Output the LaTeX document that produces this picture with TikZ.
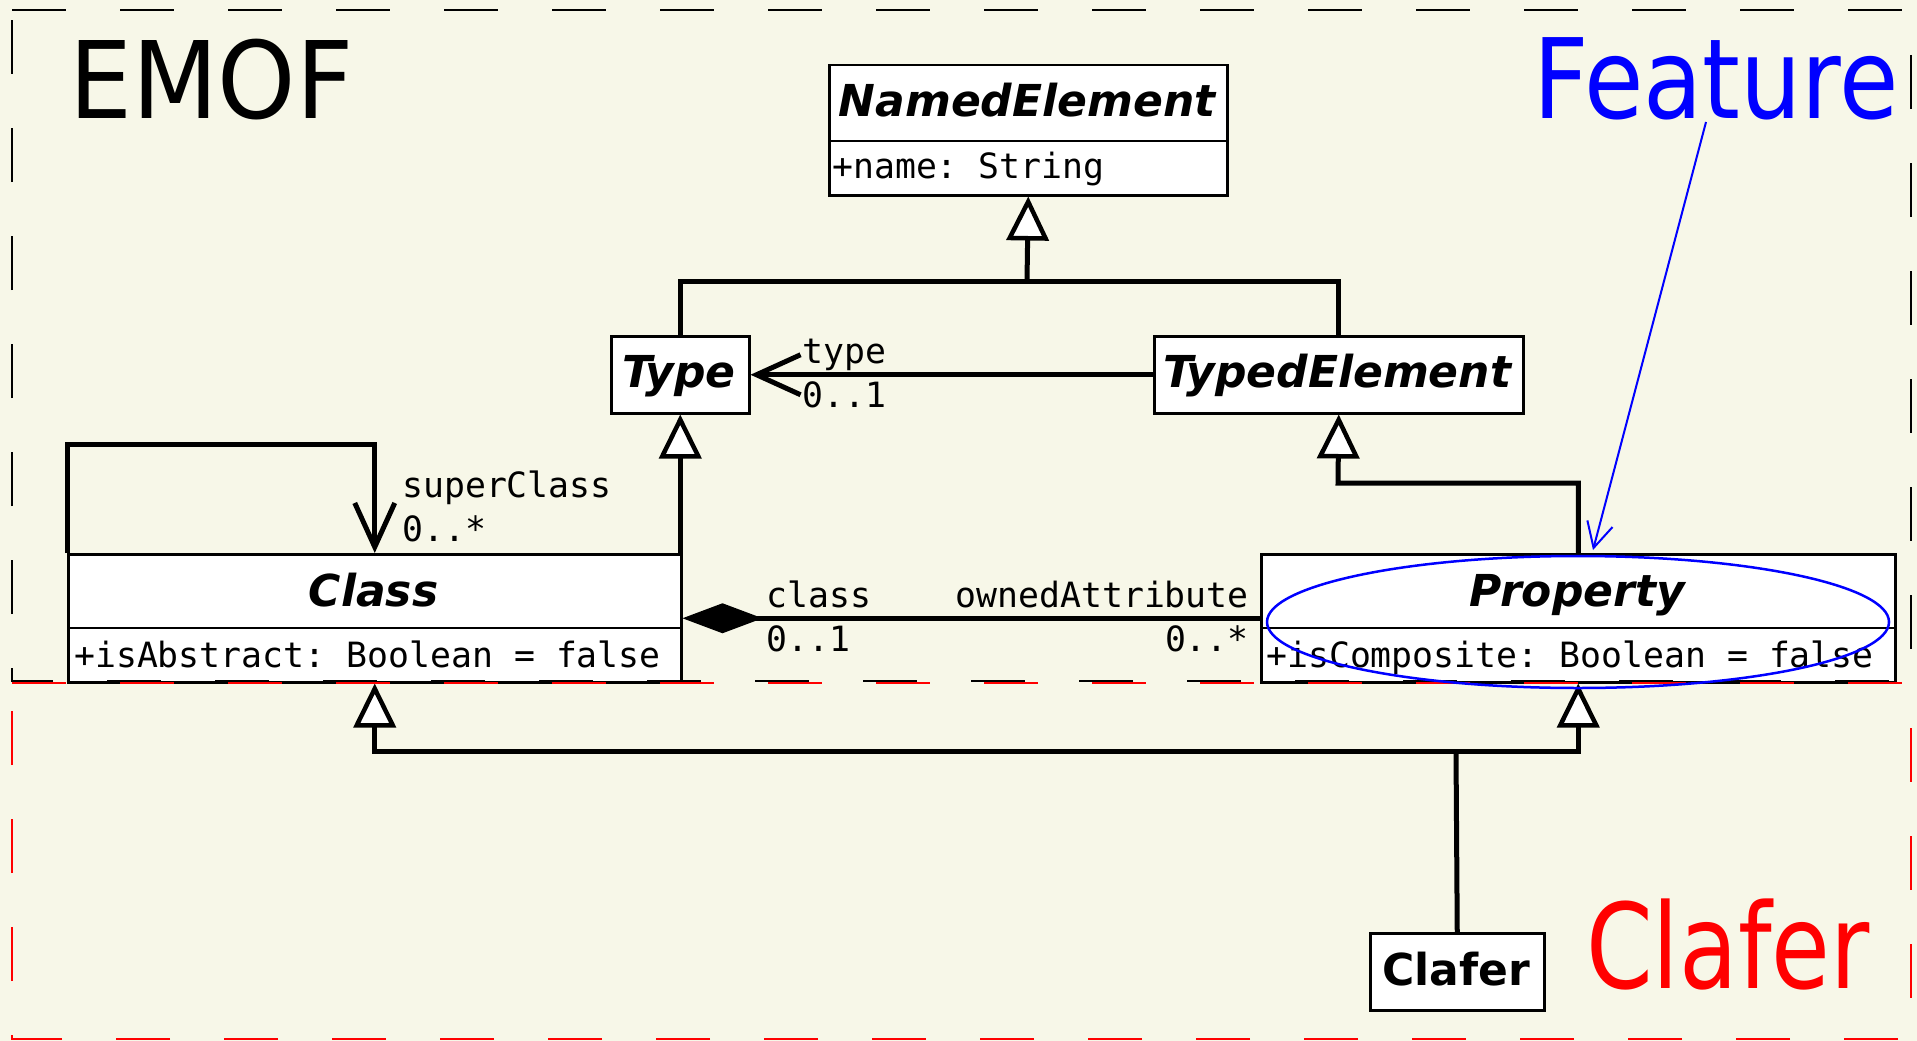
\documentclass[tikz,border=0pt]{standalone}
\usepackage{fontspec}
\usepackage{graphicx}
\setmainfont{DejaVu Sans}
\newfontfamily\monof{DejaVu Sans Mono}
\usetikzlibrary{arrows.meta}
\definecolor{bgcream}{RGB}{247,247,232}
\frenchspacing
\tikzset{
 umlbox/.style={draw=black, fill=white, line width=2.5pt, inner sep=0pt, anchor=north west},
 divider/.style={line width=2.5pt},
 cname/.style={font=\fontsize{44}{50}\selectfont\bfseries\itshape, inner sep=0pt, anchor=base},
 attr/.style={font=\monof\fontsize{34.8}{40}\selectfont, inner sep=0pt, anchor=base west},
 lbl/.style={font=\monof\fontsize{34.8}{40}\selectfont, inner sep=0pt},
 conn/.style={line width=5pt, line join=miter},
 gen/.style={-{Triangle[length=44pt, width=42pt, fill=white, line width=4.5pt]}},
 nav/.style={-{Straight Barb[length=44pt, width=40pt, line width=5pt]}},
 comp/.style={{Diamond[length=80pt, width=30pt]}-},
 biglbl/.style={inner sep=0pt, anchor=base west},
}
\begin{document}
\begin{tikzpicture}[x=1pt,y=-1pt]
\fill[bgcream] (0,0) rectangle (1917,1041);
\useasboundingbox (0,0) rectangle (1917,1041);

% boxes
\node[umlbox, minimum width=398pt, minimum height=130pt] (ne) at (828,64) {};
\draw[divider] (828,141) -- (1226,141);
\node[cname] (netxt) at (1027,117) {NamedElement};
\node[attr] (neattr) at (832,178) {+name: String};

\node[umlbox, minimum width=138pt, minimum height=77pt] (ty) at (610,335) {};
\node[cname] (tytxt) at (679,387.5) {Type};

\node[umlbox, minimum width=369pt, minimum height=77pt] (te) at (1153,335) {};
\node[cname] (tetxt) at (1337.5,387.5) {TypedElement};

\node[umlbox, minimum width=613pt, minimum height=128pt] (cls) at (67,553) {};
\draw[divider] (67,628) -- (680,628);
\node[cname] (clstxt) at (373.5,606) {Class};
\node[attr] (clsattr) at (74,667.5) {+isAbstract: Boolean = false};

\node[umlbox, minimum width=634pt, minimum height=128pt] (prop) at (1260,553) {};
\draw[divider] (1260,628) -- (1894,628);
\node[cname] (proptxt) at (1577,606) {Property};
\node[attr] (propattr) at (1266,667.5) {+isComposite: Boolean = false};

\node[umlbox, minimum width=174pt, minimum height=77pt] (clafer) at (1369,932) {};
\node[cname, font=\fontsize{44}{50}\selectfont\bfseries] (clafertxt) at (1456,985) {Clafer};

% junction coordinates
\coordinate (hne) at (1027,281);
\coordinate (hprop) at (1338,483);
\coordinate (hcl) at (1456,751);
\coordinate (selfA) at (67,444);

% generalizations
\draw[conn] (ty.north) |- (hne) -| (te.north);
\draw[conn, gen] (hne) -- (ne.south);
\draw[conn, gen] (ty.south |- cls.north) -- (ty.south);
\draw[conn, gen] (prop.north) |- (hprop) -- (te.south);
\draw[conn] (clafer.north) -- (hcl);
\draw[conn, gen] (hcl) -| (cls.south);
\draw[conn, gen] (hcl) -| (prop.south);

% associations
\draw[conn, nav] (te.west) -- (ty.east);
\node[lbl, anchor=base west] (ltype) at (802,363) {type};
\node[lbl, anchor=base west] (ltypem) at (802,407) {0..1};

\draw[conn, nav] (cls.north west) -- (selfA) -| (cls.north);
\node[lbl, anchor=base west] (lsup) at (402,497.6) {superClass};
\node[lbl, anchor=base west] (lsupm) at (402,541.6) {0..*};

\draw[conn, comp] (cls.east) -- (prop.west);
\node[lbl, anchor=base west] (lcls) at (766,607.6) {class};
\node[lbl, anchor=base west] (lclsm) at (766,651.6) {0..1};
\node[lbl, anchor=base east] (lown) at (1249,607.6) {ownedAttribute};
\node[lbl, anchor=base east] (lownm) at (1249,651.6) {0..*};

% package frames
\draw[black, line width=2pt, dash pattern=on 54pt off 54pt] (12,10) -- (1911,10) -- (1911,681) -- (12,681) -- cycle;
\draw[red, line width=2pt, dash pattern=on 54pt off 54pt] (12,683) -- (1911,683) -- (1911,1039) -- (12,1039) -- cycle;

% big labels
\node[biglbl, font=\fontsize{107}{120}\selectfont] (emof) at (69,118.6) {\scalebox{0.93}[1]{EMOF}};
\node[biglbl, font=\fontsize{111}{120}\selectfont, text=blue] (feat) at (1533.5,118.6) {\scalebox{0.87}[1]{Feature}};
\node[biglbl, font=\fontsize{118}{130}\selectfont, text=red] (clbig) at (1586,988) {\scalebox{0.81}[1]{Clafer}};

% feature highlight
\draw[blue, line width=2.5pt] (1578,622) ellipse [x radius=311, y radius=66];
\coordinate (fa) at (1706,122);
\coordinate (fb) at (1593,550);
\draw[blue, line width=2pt, -{Straight Barb[length=25pt, width=26pt]}] (fa) -- (fb);
\end{tikzpicture}
\end{document}
